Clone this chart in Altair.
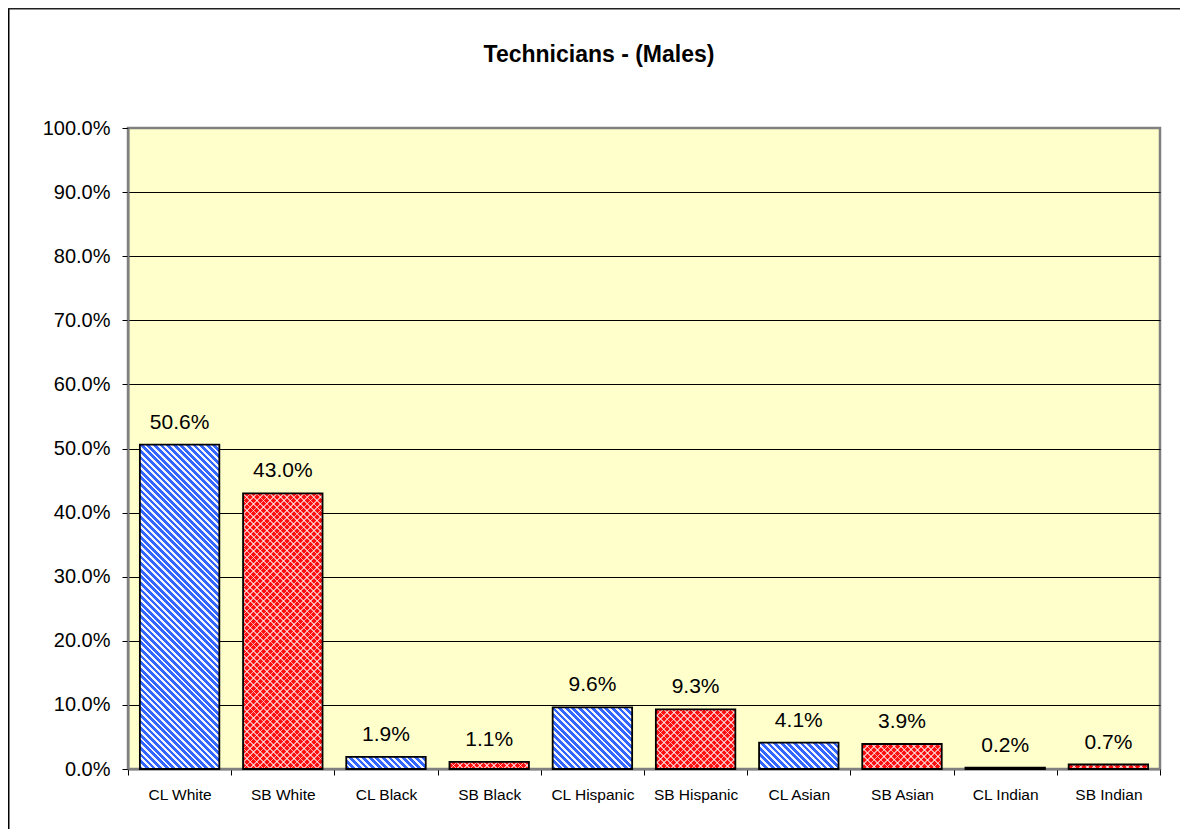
import altair as alt
import pandas as pd
import math

# ---- data ----
categories = ["CL White", "SB White", "CL Black", "SB Black", "CL Hispanic",
              "SB Hispanic", "CL Asian", "SB Asian", "CL Indian", "SB Indian"]
percent_values = [50.6, 43.0, 1.9, 1.1, 9.6, 9.3, 4.1, 3.9, 0.2, 0.7]
y_ticks = [0.0, 0.1, 0.2, 0.3, 0.4, 0.5, 0.6, 0.7, 0.8, 0.9, 1.0]
title_text = "Technicians - (Males)"

df = pd.DataFrame({"cat": categories, "val": [v / 100 for v in percent_values]})

# ---- layout ----
PLOT_W, PLOT_H = 1032, 641
PAD = {"left": 120, "top": 120, "right": 20, "bottom": 60}
BAND = 0.77
BAR_W = PLOT_W / len(categories) * BAND
FONT = "Liberation Sans"


def diag_gradient(W, H, direction, period, col_a, col_b, frac_a):
    """Linear gradient (objectBoundingBox) that renders 45-degree stripes."""
    W = max(W, 0.5)
    H = max(H, 0.5)
    S = W + H
    k = S / (W * W + H * H)
    if direction == "back":          # stripes like '\'
        x1, y1, x2, y2 = 0, 1, W * k, 1 - H * k
    else:                            # stripes like '/'
        x1, y1, x2, y2 = 0, 0, W * k, H * k
    dt = period / S
    n = int(math.ceil(1 / dt))
    stops = []
    for i in range(n):
        a = i * dt
        m = min(a + frac_a * dt, 1.0)
        b = min((i + 1) * dt, 1.0)
        stops += [{"offset": round(min(a, 1.0), 5), "color": col_a},
                  {"offset": round(m, 5), "color": col_a},
                  {"offset": round(m, 5), "color": col_b},
                  {"offset": round(b, 5), "color": col_b}]
    return {"gradient": "linear", "x1": round(x1, 5), "y1": round(y1, 5),
            "x2": round(x2, 5), "y2": round(y2, 5), "stops": stops}


RED = "#FF1010"
WHITE_LINE = "rgba(255,255,255,0.62)"
CLEAR = "rgba(255,255,255,0)"

main_conds, over1_conds, over2_conds = [], [], []
for c, v in zip(categories, percent_values):
    H = v / 100 * PLOT_H
    test = f"datum.cat === '{c}'"
    if c.startswith("CL"):
        g = diag_gradient(BAR_W, H, "back", 6.6, "#3366FF", "#F2F5FF", 0.58)
        main_conds.append({"test": test, "value": g})
    else:
        main_conds.append({"test": test, "value": RED})
        over1_conds.append({"test": test, "value": diag_gradient(BAR_W, H, "back", 6.7, WHITE_LINE, CLEAR, 0.26)})
        over2_conds.append({"test": test, "value": diag_gradient(BAR_W, H, "fwd", 6.7, WHITE_LINE, CLEAR, 0.26)})

grid_color = {"condition": {"test": "datum.value >= 1", "value": "#808080"}, "value": "#000000"}

x_enc = alt.X("cat:N", sort=categories, title=None,
              scale=alt.Scale(paddingInner=0, paddingOuter=0),
              axis=alt.Axis(labelAngle=0, labelFontSize=15.5, labelFont=FONT, labelColor="#000000",
                            labelPadding=12, tickBand="extent", tickSize=6, tickColor="#000000",
                            domainColor="#808080", domainWidth=2, grid=False))
y_enc = alt.Y("val:Q", title=None,
              scale=alt.Scale(domain=[0, 1], nice=False),
              axis=alt.Axis(values=y_ticks, format=".1%", labelFontSize=20, labelFont=FONT,
                            labelColor="#000000", labelPadding=12, tickSize=6, tickColor="#000000",
                            domainColor="#808080", domainWidth=2, grid=True,
                            gridColor=grid_color, gridWidth=1))

base = alt.Chart(df).encode(x=x_enc, y=y_enc)

bars_fill = base.mark_bar(width={"band": BAND}, strokeWidth=0).encode(
    fill={"condition": main_conds, "value": RED})
over1 = base.mark_bar(width={"band": BAND}, strokeWidth=0).encode(
    fill={"condition": over1_conds, "value": CLEAR})
over2 = base.mark_bar(width={"band": BAND}, strokeWidth=0).encode(
    fill={"condition": over2_conds, "value": CLEAR})
bars_stroke = base.mark_bar(width={"band": BAND}, fillOpacity=0, stroke="#000000", strokeWidth=1.8)

labels = base.mark_text(dy=-16, baseline="alphabetic", fontSize=21, font=FONT, color="#000000").encode(
    text=alt.Text("val:Q", format=".1%"))

frame_df = pd.DataFrame({"t": [title_text]})
title_mark = alt.Chart(frame_df).mark_text(
    fontSize=23, font=FONT, fontWeight="bold", color="#000000",
    align="center", baseline="alphabetic").encode(
    x=alt.value(471), y=alt.value(-66), text="t:N")
left_border = alt.Chart(frame_df).mark_rule(color="#000000", strokeWidth=1.5).encode(
    x=alt.value(-119.25), y=alt.value(-120), y2=alt.value(PLOT_H + PAD["bottom"]))
top_border = alt.Chart(frame_df).mark_rule(color="#202020", strokeWidth=1.5).encode(
    x=alt.value(-120), x2=alt.value(PLOT_W + PAD["right"]), y=alt.value(-119.25))

chart = alt.layer(bars_fill, over1, over2, bars_stroke, labels,
                  title_mark, left_border, top_border).properties(
    width=PLOT_W, height=PLOT_H,
    autosize=alt.AutoSizeParams(type="none"),
    padding=PAD,
    background="#FFFFFF",
).configure_view(fill="#FFFFCC", stroke="#808080", strokeWidth=2.5)

chart.save("out.html", embed_options={"renderer": "svg", "actions": False})
